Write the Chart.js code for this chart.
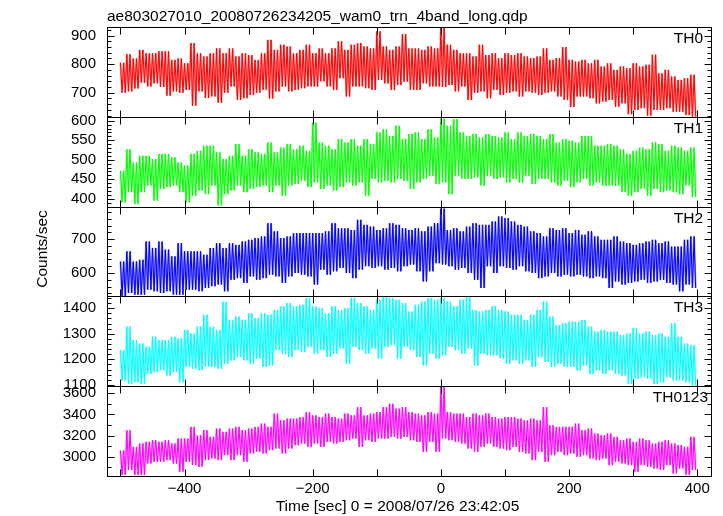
<!DOCTYPE html>
<html>
<head>
<meta charset="utf-8">
<title>ae803027010 WAM light curve</title>
<script src="https://cdn.jsdelivr.net/npm/chart.js@4.4.1/dist/chart.umd.min.js"></script>
<style>
  html, body { margin: 0; padding: 0; background: #fff; }
  #wrap { width: 723px; height: 516px; }
</style>
</head>
<body>
<div id="wrap"><canvas id="lc" width="723" height="516"></canvas></div>
<script>
const TITLE = "ae803027010_20080726234205_wam0_trn_4band_long.qdp";
const X_TITLE = "Time [sec] 0 = 2008/07/26 23:42:05";
const Y_TITLE = "Counts/sec";

// start of each 10 s bin (sec from 2008/07/26 23:42:05)
const binTimes = [
  -500, -490, -480, -470, -460, -450, -440, -430, -420, -410,
  -400, -390, -380, -370, -360, -350, -340, -330, -320, -310,
  -300, -290, -280, -270, -260, -250, -240, -230, -220, -210,
  -200, -190, -180, -170, -160, -150, -140, -130, -120, -110,
  -100, -90, -80, -70, -60, -50, -40, -30, -20, -10,
  0, 10, 20, 30, 40, 50, 60, 70, 80, 90,
  100, 110, 120, 130, 140, 150, 160, 170, 180, 190,
  200, 210, 220, 230, 240, 250, 260, 270, 280, 290,
  300, 310, 320, 330, 340, 350, 360, 370, 380, 390
];

const xTickLabels = [-400, -200, 0, 200, 400];
const xTickMarks = [-500, -400, -300, -200, -100, 0, 100, 200, 300, 400];

const panelNames = ["TH0", "TH1", "TH2", "TH3", "TH0123"];

// highest / lowest count rate seen in each bin
const th0Hi = [805, 835, 820, 850, 838, 838, 845, 845, 815, 820, 803, 874, 838, 827, 838, 855, 838, 855, 827, 838,
  832, 815, 838, 885, 850, 868, 862, 838, 850, 868, 838, 855, 838, 855, 880, 850, 868, 874, 862, 855,
  915, 862, 850, 862, 905, 855, 855, 850, 862, 855, 930, 868, 850, 838, 838, 827, 868, 832, 838, 821,
  838, 832, 838, 827, 821, 827, 855, 815, 821, 860, 815, 809, 815, 803, 815, 792, 803, 780, 792, 786,
  803, 792, 798, 833, 768, 780, 757, 745, 751, 763];
const th0Lo = [700, 705, 715, 735, 722, 733, 720, 690, 705, 700, 710, 655, 705, 682, 687, 665, 700, 722, 675, 681,
  692, 700, 710, 680, 705, 722, 705, 710, 716, 722, 722, 740, 722, 710, 751, 687, 722, 722, 716, 710,
  745, 733, 710, 727, 739, 710, 710, 733, 722, 722, 720, 727, 705, 722, 675, 700, 705, 681, 710, 692,
  700, 705, 687, 705, 700, 692, 700, 705, 687, 675, 650, 687, 687, 681, 663, 669, 675, 651, 663, 625,
  640, 646, 620, 640, 640, 646, 634, 634, 622, 616];

const th1Hi = [472, 527, 493, 510, 510, 502, 515, 515, 506, 493, 485, 515, 523, 536, 536, 519, 502, 510, 540, 510,
  527, 519, 515, 544, 519, 531, 540, 527, 536, 523, 595, 544, 536, 527, 553, 544, 553, 536, 553, 540,
  570, 578, 561, 587, 553, 566, 570, 553, 578, 557, 605, 587, 604, 570, 561, 566, 557, 566, 561, 557,
  570, 553, 570, 561, 566, 561, 553, 566, 544, 553, 549, 544, 561, 561, 536, 536, 540, 536, 527, 515,
  523, 531, 527, 544, 540, 523, 536, 531, 523, 531];
const th1Lo = [391, 417, 387, 417, 434, 395, 425, 430, 434, 417, 391, 408, 421, 412, 434, 383, 412, 421, 434, 417,
  425, 430, 434, 417, 434, 408, 434, 438, 446, 430, 442, 425, 434, 421, 430, 442, 434, 442, 408, 451,
  442, 446, 442, 451, 446, 425, 442, 451, 459, 438, 442, 412, 459, 451, 451, 455, 434, 459, 451, 455,
  442, 451, 442, 459, 438, 451, 451, 442, 434, 446, 430, 442, 451, 434, 442, 434, 434, 434, 417, 408,
  417, 425, 408, 425, 417, 421, 417, 412, 434, 404];

const th2Hi = [634, 664, 634, 639, 693, 674, 693, 669, 649, 688, 664, 664, 664, 654, 674, 688, 674, 688, 683, 693,
  698, 703, 708, 747, 723, 703, 708, 718, 718, 718, 718, 718, 723, 747, 732, 732, 727, 757, 742, 737,
  727, 732, 747, 742, 732, 727, 732, 723, 737, 747, 790, 727, 732, 723, 737, 747, 742, 742, 752, 767,
  762, 752, 742, 737, 723, 718, 708, 732, 727, 732, 718, 727, 713, 723, 708, 698, 698, 708, 693, 688,
  683, 688, 693, 698, 688, 693, 678, 678, 698, 708];
const th2Lo = [531, 541, 536, 536, 551, 546, 541, 546, 536, 536, 551, 551, 546, 556, 561, 566, 546, 580, 585, 571,
  590, 580, 585, 595, 590, 571, 590, 600, 595, 590, 566, 610, 595, 605, 615, 600, 585, 610, 620, 615,
  620, 610, 615, 605, 620, 625, 605, 575, 605, 629, 625, 620, 610, 615, 600, 580, 556, 620, 600, 620,
  615, 610, 620, 605, 600, 585, 590, 600, 590, 595, 590, 595, 590, 585, 590, 585, 556, 575, 566, 571,
  575, 580, 571, 575, 580, 571, 566, 546, 566, 556];

const th3Hi = [1236, 1328, 1275, 1262, 1249, 1288, 1275, 1275, 1288, 1282, 1315, 1301, 1328, 1374, 1328, 1315, 1425, 1354, 1367, 1354,
  1380, 1361, 1380, 1374, 1393, 1407, 1420, 1407, 1413, 1440, 1407, 1400, 1380, 1407, 1393, 1400, 1440, 1420, 1407, 1393,
  1433, 1446, 1440, 1433, 1420, 1387, 1413, 1426, 1440, 1433, 1440, 1426, 1407, 1433, 1446, 1393, 1387, 1393, 1407, 1393,
  1387, 1374, 1374, 1354, 1374, 1393, 1426, 1367, 1334, 1341, 1347, 1347, 1354, 1328, 1308, 1315, 1308, 1308, 1295, 1301,
  1321, 1301, 1308, 1295, 1301, 1288, 1341, 1288, 1262, 1255];
const th3Lo = [1117, 1104, 1110, 1104, 1143, 1150, 1157, 1137, 1150, 1110, 1170, 1163, 1157, 1170, 1170, 1163, 1183, 1196, 1209, 1196,
  1183, 1203, 1170, 1176, 1236, 1222, 1209, 1236, 1229, 1249, 1222, 1236, 1209, 1222, 1242, 1183, 1249, 1236, 1222, 1242,
  1203, 1249, 1255, 1203, 1249, 1236, 1209, 1176, 1222, 1203, 1216, 1249, 1236, 1222, 1242, 1176, 1222, 1216, 1216, 1203,
  1183, 1196, 1183, 1196, 1170, 1209, 1190, 1170, 1183, 1170, 1170, 1157, 1176, 1143, 1157, 1143, 1157, 1143, 1137, 1104,
  1124, 1130, 1124, 1104, 1110, 1130, 1117, 1117, 1110, 1097];

const th0123Hi = [3060, 3250, 3094, 3125, 3141, 3156, 3141, 3156, 3125, 3172, 3172, 3282, 3203, 3250, 3188, 3266, 3235, 3266, 3282, 3250,
  3266, 3282, 3313, 3282, 3407, 3344, 3360, 3360, 3375, 3422, 3391, 3375, 3407, 3375, 3360, 3407, 3391, 3469, 3391, 3407,
  3422, 3469, 3500, 3454, 3469, 3422, 3407, 3391, 3422, 3407, 3660, 3422, 3407, 3407, 3375, 3407, 3391, 3407, 3375, 3360,
  3375, 3375, 3360, 3344, 3360, 3344, 3469, 3297, 3282, 3282, 3282, 3313, 3250, 3266, 3219, 3203, 3219, 3188, 3156, 3172,
  3141, 3172, 3156, 3125, 3141, 3156, 3125, 3110, 3094, 3188];
const th0123Lo = [2830, 2875, 2830, 2830, 2937, 2953, 2953, 2969, 2937, 2860, 2953, 2922, 2906, 2969, 2984, 2969, 3016, 2969, 3016, 2953,
  3031, 3047, 3031, 3063, 3078, 3031, 3078, 3110, 3125, 3094, 3125, 3094, 3141, 3125, 3141, 3156, 3172, 3094, 3156, 3141,
  3172, 3172, 3188, 3172, 3188, 3156, 3141, 3047, 3141, 3047, 3172, 3156, 3141, 3125, 3078, 3047, 3094, 3125, 3094, 3078,
  3063, 3094, 3047, 3031, 2969, 3047, 2953, 3016, 3047, 3016, 3031, 3000, 3016, 2984, 2969, 2984, 2922, 2953, 2937, 2922,
  2860, 2922, 2906, 2890, 2875, 2922, 2844, 2890, 2830, 2875];

// y ranges and labelled ticks of each panel
const yMins = [616, 380, 531, 1095, 2819];
const yMaxs = [930, 610, 796, 1446, 3666];
const yTickLabels = [
  [700, 800, 900],
  [400, 450, 500, 550, 600],
  [600, 700],
  [1100, 1200, 1300, 1400],
  [3000, 3200, 3400, 3600]
];
const yMinorSteps = [20, 10, 20, 20, 100];

const panelHi = [th0Hi, th1Hi, th2Hi, th3Hi, th0123Hi];
const panelLo = [th0Lo, th1Lo, th2Lo, th3Lo, th0123Lo];

const lineColors = ["#ff0000", "#00ff00", "#0000ff", "#00ffff", "#ff00ff"];
const errColors = ["#ff9a9a", "#9aff9a", "#9a9aff", "#9affff", "#ff9aff"];

const FONT_FAMILY = '"Liberation Sans", Arial, Helvetica, sans-serif';
const INK = "#000";

// each bin swings twice between its high and low reading
function binTrace(hi, lo) {
  const pts = [];
  binTimes.forEach((t, i) => {
    pts.push({ x: t, y: hi[i] });
    pts.push({ x: t + 2.5, y: lo[i] });
    pts.push({ x: t + 5, y: hi[i] });
    pts.push({ x: t + 7.5, y: lo[i] });
  });
  return pts;
}

const datasets = [];
panelNames.forEach((name, i) => {
  const pts = binTrace(panelHi[i], panelLo[i]);
  datasets.push({
    label: name + " err",
    data: pts,
    yAxisID: "y" + i,
    borderColor: errColors[i],
    borderWidth: 2,
    borderJoinStyle: "bevel",
    pointRadius: 0,
    tension: 0,
    order: 2
  });
  datasets.push({
    label: name,
    data: pts,
    yAxisID: "y" + i,
    borderColor: lineColors[i],
    borderWidth: 1,
    borderJoinStyle: "bevel",
    pointRadius: 0,
    tension: 0,
    order: 1
  });
});

const scales = {
  x: {
    type: "linear",
    min: -521,
    max: 423,
    grid: { display: false, drawTicks: false },
    border: { display: false },
    ticks: {
      autoSkip: false,
      maxRotation: 0,
      padding: 4,
      color: INK,
      font: { family: FONT_FAMILY, size: 15 },
      callback: (v) => (v < 0 ? "\u2212" + Math.abs(v) : String(v))
    },
    afterBuildTicks: (s) => { s.ticks = xTickLabels.map((v) => ({ value: v })); },
    afterFit: (s) => { s.height = 40; }
  }
};

panelNames.forEach((name, i) => {
  scales["y" + i] = {
    type: "linear",
    position: "left",
    stack: "panels",
    stackWeight: 1,
    weight: panelNames.length - i,
    min: yMins[i],
    max: yMaxs[i],
    grid: { display: false, drawTicks: false },
    border: { display: false },
    ticks: {
      autoSkip: false,
      padding: 11,
      color: INK,
      font: { family: FONT_FAMILY, size: 15 },
      callback: (v) => String(v)
    },
    afterBuildTicks: (s) => { s.ticks = yTickLabels[i].map((v) => ({ value: v })); },
    afterFit: (s) => { s.width = 107; }
  };
});

const labelInset = [9, 9, 9, 9, 4];

const framePlugin = {
  id: "qdpFrames",
  afterDraw(chart) {
    const { ctx, chartArea, scales: sc } = chart;
    const xs = sc.x;
    const left = Math.round(chartArea.left) + 0.5;
    const right = Math.round(chartArea.right) - 0.5;

    ctx.save();
    ctx.strokeStyle = INK;
    ctx.lineWidth = 1;

    panelNames.forEach((name, i) => {
      const ys = sc["y" + i];
      const top = Math.round(ys.top) + 0.5;
      const bottom = Math.round(ys.bottom) + 0.5;
      ctx.strokeRect(left, top, right - left, bottom - top);

      ctx.beginPath();
      const step = yMinorSteps[i];
      for (let v = Math.ceil(ys.min / step) * step; v <= ys.max; v += step) {
        const y = Math.round(ys.getPixelForValue(v)) + 0.5;
        const len = yTickLabels[i].includes(v) ? 7 : 4;
        ctx.moveTo(left, y);
        ctx.lineTo(left + len, y);
        ctx.moveTo(right, y);
        ctx.lineTo(right - len, y);
      }
      xTickMarks.forEach((v) => {
        const x = Math.round(xs.getPixelForValue(v)) + 0.5;
        ctx.moveTo(x, top);
        ctx.lineTo(x, top + 7);
        ctx.moveTo(x, bottom);
        ctx.lineTo(x, bottom - 7);
      });
      ctx.stroke();

      ctx.fillStyle = INK;
      ctx.font = "15.5px " + FONT_FAMILY;
      ctx.textAlign = "right";
      ctx.textBaseline = "alphabetic";
      ctx.fillText(name, chartArea.right - labelInset[i], ys.top + 16);
    });

    ctx.fillStyle = INK;
    ctx.font = "15.5px " + FONT_FAMILY;
    ctx.textBaseline = "alphabetic";
    ctx.textAlign = "left";
    ctx.fillText(TITLE, chartArea.left, 21);

    ctx.textAlign = "center";
    ctx.fillText(X_TITLE, 397.5, 511);

    ctx.translate(46.5, 249);
    ctx.rotate(-Math.PI / 2);
    ctx.fillText(Y_TITLE, 0, 0);
    ctx.restore();
  }
};

new Chart(document.getElementById("lc"), {
  type: "line",
  data: { datasets },
  options: {
    responsive: false,
    animation: false,
    layout: { padding: { left: 0, top: 27, right: 11, bottom: 0 } },
    plugins: {
      legend: { display: false },
      tooltip: { enabled: false },
      title: { display: false }
    },
    scales
  },
  plugins: [framePlugin]
});
</script>
</body>
</html>
